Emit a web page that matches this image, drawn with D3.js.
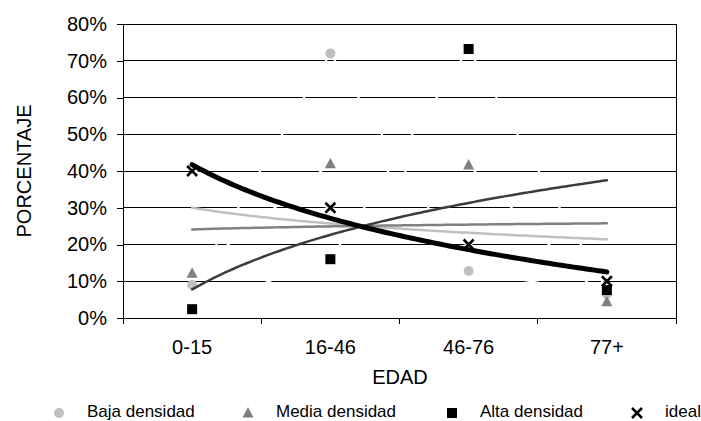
<!DOCTYPE html>
<html><head><meta charset="utf-8">
<script src="https://cdn.jsdelivr.net/npm/d3@7"></script>
<style>body{margin:0;background:#fff}svg{display:block;font-family:Arial,"Liberation Sans",sans-serif}</style>
</head><body><svg id="c" width="701" height="421"></svg>
<script>
const categories = ["0-15","16-46","46-76","77+"];
const baja = [0.09, 0.72, 0.128, 0.065];
const media = [0.122, 0.42, 0.416, 0.044];
const alta = [0.024, 0.16, 0.732, 0.076];
const ideal = [0.40, 0.30, 0.20, 0.10];
const yTicks = [0,0.1,0.2,0.3,0.4,0.5,0.6,0.7,0.8];
const seriesNames = ["Baja densidad","Media densidad","Alta densidad","ideal"];

const svg = d3.select("#c");
const L=123, R=676, T=24, B=318;
const x = d3.scaleBand().domain(categories).range([L,R]).padding(0);
const y = d3.scaleLinear().domain([0,0.8]).range([B,T]);
const t = d3.scaleLinear().domain([0.5, categories.length+0.5]).range([L,R]);
const cx = c => x(c)+x.bandwidth()/2;

// gridlines
svg.append("g").selectAll("line").data(yTicks.slice(1)).join("line")
  .attr("x1",L).attr("x2",R).attr("y1",d=>y(d)).attr("y2",d=>y(d))
  .attr("stroke","#000").attr("stroke-width",1).attr("shape-rendering","crispEdges");
// right border
svg.append("line").attr("x1",R).attr("x2",R).attr("y1",T).attr("y2",B).attr("stroke","#000").attr("shape-rendering","crispEdges");

// axes
const yAxis = d3.axisLeft(y).tickValues(yTicks).tickFormat(d3.format(".0%")).tickSize(6).tickPadding(10);
const gy = svg.append("g").attr("transform",`translate(${L},0)`).call(yAxis);
gy.selectAll("text").attr("font-size",20).attr("fill","#000").attr("font-family","Arial, 'Liberation Sans', sans-serif");
gy.selectAll("line,path").attr("stroke","#000").attr("shape-rendering","crispEdges");

const xAxis = d3.axisBottom(x).tickSize(0).tickPadding(22);
const gx = svg.append("g").attr("transform",`translate(0,${B})`).call(xAxis);
gx.selectAll("text").attr("font-size",20).attr("fill","#000").attr("font-family","Arial, 'Liberation Sans', sans-serif");
gx.select("path").attr("stroke","#000").attr("shape-rendering","crispEdges");
// band boundary ticks
const bounds = categories.map(c=>x(c)).concat([R]);
svg.append("g").selectAll("line").data(bounds).join("line")
  .attr("x1",d=>d).attr("x2",d=>d).attr("y1",B).attr("y2",B+6)
  .attr("stroke","#000").attr("shape-rendering","crispEdges");

// axis titles
svg.append("text").attr("x",400).attr("y",384).attr("text-anchor","middle").attr("font-size",20).text("EDAD");
svg.append("text").attr("transform","translate(31,171) rotate(-90)").attr("text-anchor","middle").attr("font-size",20).text("PORCENTAJE");

const series = [
  {name:seriesNames[0], vals:baja, color:"#c0c0c0", shape:"circle", tcol:"#c0c0c0", tw:2.5},
  {name:seriesNames[1], vals:media, color:"#808080", shape:"triangle", tcol:"#808080", tw:2.5},
  {name:seriesNames[2], vals:alta, color:"#000", shape:"square", tcol:"#3c3c3c", tw:2.5},
  {name:seriesNames[3], vals:ideal, color:"#000", shape:"x", tcol:"#000", tw:5}
];

// white connecting lines (series lines in white)
const line = d3.line().x((d,i)=>cx(categories[i])).y(d=>y(d));
series.forEach(s=>{
  svg.append("path").attr("d",line(s.vals)).attr("fill","none").attr("stroke","#fff").attr("stroke-width",2);
});

function drawMarker(g, shape, color, px, py){
  if(shape==="circle") g.append("circle").attr("cx",px).attr("cy",py).attr("r",5).attr("fill",color);
  else if(shape==="triangle") g.append("path").attr("d",`M${px},${py-6}L${px+5.5},${py+4.5}L${px-5.5},${py+4.5}Z`).attr("fill",color);
  else if(shape==="square") g.append("rect").attr("x",px-5).attr("y",py-5).attr("width",10).attr("height",10).attr("fill",color);
  else g.append("path").attr("d",`M${px-5},${py-5}L${px+5},${py+5}M${px+5},${py-5}L${px-5},${py+5}`).attr("stroke",color).attr("stroke-width",2.5);
}

const gm = svg.append("g");
series.forEach(s=>{
  s.vals.forEach((v,i)=>drawMarker(gm, s.shape, s.color, cx(categories[i]), y(v)));
});

// logarithmic trendlines (least squares y = a + b ln x)
function logFit(vals){
  const xs = vals.map((v,i)=>Math.log(i+1));
  const mx = d3.mean(xs), my = d3.mean(vals);
  let sxy=0,sxx=0;
  xs.forEach((xv,i)=>{sxy+=(xv-mx)*(vals[i]-my); sxx+=(xv-mx)*(xv-mx);});
  const b = sxy/sxx, a = my-b*mx;
  return xv=>a+b*Math.log(xv);
}
series.forEach(s=>{
  const f = logFit(s.vals);
  const pts = d3.range(0,101).map(j=>1+j*(categories.length-1)/100);
  svg.append("path").attr("d",d3.line().x(u=>t(u)).y(u=>y(f(u)))(pts))
    .attr("fill","none").attr("stroke",s.tcol).attr("stroke-width",s.tw).attr("stroke-linecap","round");
});

// legend
const legX = [59,248,452,637];
const lg = svg.append("g");
series.forEach((s,i)=>{
  drawMarker(lg, s.shape, s.color, legX[i], 413);
  lg.append("text").attr("x",legX[i]+28).attr("y",417).attr("font-size",17).text(s.name);
});
</script></body></html>
